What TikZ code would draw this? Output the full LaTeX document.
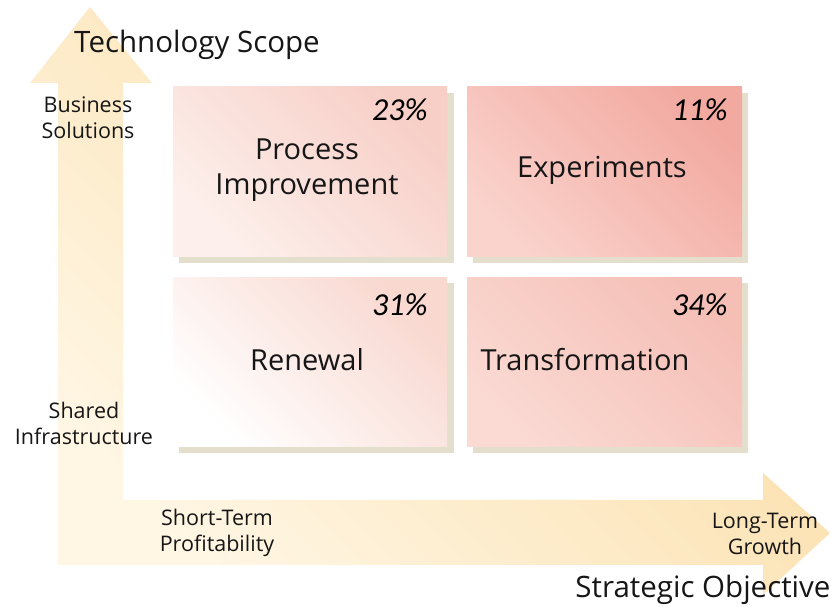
\documentclass[tikz,border=0pt]{standalone}
\usepackage{fontspec}
\setmainfont{Open Sans}
\newfontfamily\pctfont{Carlito}
\definecolor{arrowlight}{HTML}{FFF6E4}
\definecolor{arrowdark}{HTML}{FADA9F}
\definecolor{boxshadow}{HTML}{E4DECC}
\definecolor{inktext}{HTML}{161616}
\definecolor{piA}{HTML}{FDF0EC}
\definecolor{piB}{HTML}{F7CFC7}
\definecolor{exA}{HTML}{FAD3CC}
\definecolor{exB}{HTML}{F2A9A0}
\definecolor{reA}{HTML}{FFFFFF}
\definecolor{reB}{HTML}{F9D8D0}
\definecolor{trA}{HTML}{FADAD3}
\definecolor{trB}{HTML}{F5BFB6}
\tikzset{
  quadbox/.style 2 args={bottom color=#1, top color=#2, shading angle=-45},
  axislabel/.style={text=inktext, font=\fontsize{29.5}{32}\selectfont},
  sidelabel/.style={text=inktext, align=center, font=\fontsize{21.5}{26}\selectfont},
  boxlabel/.style={text=inktext, align=center, font=\fontsize{29}{35}\selectfont},
  pctlabel/.style={text=black, anchor=east, font=\pctfont\itshape\fontsize{32}{34}\selectfont}
}
\begin{document}
\begin{tikzpicture}[x=1pt,y=1pt]
    \useasboundingbox (0,0) rectangle (831,607);
    % L-shaped double arrow
    \shade[bottom color=arrowlight, top color=arrowdark, shading angle=-45]
        (58,42) -- (58,524) -- (30,524) -- (90,600) -- (152,524) -- (123,524) -- (123,107)
        -- (763,107) -- (763,134) -- (830,74) -- (763,12) -- (763,42) -- cycle;
    \node[axislabel] (techscope) at (197,562) {Technology Scope};
    \node[axislabel] (stratobj) at (703,17) {Strategic Objective};
    \node[sidelabel] (bizsol) at (88,489) {Business\\Solutions};
    \node[sidelabel] (sharedinfra) at (84,184) {Shared\\Infrastructure};
    \node[sidelabel] (shortterm) at (217,74) {Short-Term\\Profitability};
    \node[sidelabel] (longterm) at (765,73) {Long-Term\\Growth};

    % shadows
    \foreach \bx/\by in {173/350, 467/350, 173/160, 467/160}
        \fill[boxshadow] (\bx+6,\by-6) rectangle ++(275,170);

    % quadrants
    \shade[quadbox={piA}{piB}] (173,350) rectangle (447,520);
    \shade[quadbox={exA}{exB}] (467,350) rectangle (742,520);
    \shade[quadbox={reA}{reB}] (173,160) rectangle (447,329);
    \shade[quadbox={trA}{trB}] (467,160) rectangle (742,329);

    \node[boxlabel] (procimp) at (307,437) {Process\\Improvement};
    \node[boxlabel] (experim) at (602,437) {Experiments};
    \node[boxlabel] (renewal) at (307,247) {Renewal};
    \node[boxlabel] (transf) at (585,247) {Transformation};

    \node[pctlabel] (pctpi) at (431,497) {23\%};
    \node[pctlabel] (pctex) at (731,497) {11\%};
    \node[pctlabel] (pctre) at (431,302) {31\%};
    \node[pctlabel] (pcttr) at (731,302) {34\%};
\end{tikzpicture}
\end{document}
